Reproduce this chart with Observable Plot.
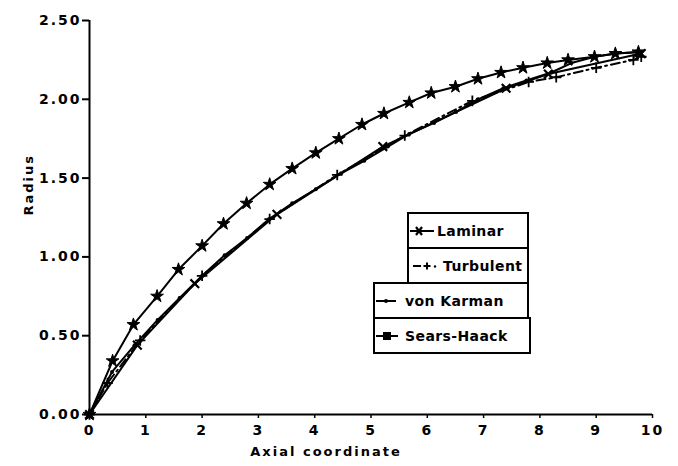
<!DOCTYPE html>
<html><head><meta charset="utf-8">
<script src="https://cdn.jsdelivr.net/npm/d3@7"></script>
<script src="https://cdn.jsdelivr.net/npm/@observablehq/plot@0.6"></script>
<style>
body{margin:0;background:#fff;}
#wrap{position:relative;width:678px;height:466px;font-family:"DejaVu Sans",sans-serif;}
.lg{position:absolute;border:2px solid #000;box-sizing:border-box;background:#fff;font-weight:bold;font-size:14px;letter-spacing:0.4px;display:flex;align-items:center;}
.lg svg{flex:none;}
</style></head><body><div id="wrap"></div>
<script>
// Sears-Haack (star markers)
const searsX = [0, 0.41, 0.78, 1.2, 1.58, 2.0, 2.38, 2.79, 3.2, 3.6, 4.02, 4.43, 4.84, 5.23, 5.68, 6.07, 6.5, 6.9, 7.31, 7.7, 8.13, 8.5, 8.97, 9.34, 9.75];
const searsY = [0, 0.34, 0.57, 0.75, 0.92, 1.07, 1.21, 1.34, 1.46, 1.56, 1.66, 1.75, 1.84, 1.91, 1.98, 2.04, 2.08, 2.13, 2.17, 2.20, 2.23, 2.25, 2.27, 2.29, 2.30];
// von Karman (dots)
const karmanX = [0, 0.4, 0.8, 1.21, 1.6, 2.0, 2.4, 2.8, 3.19, 3.6, 4.02, 4.47, 4.88, 5.3, 5.68, 6.12, 6.51, 6.9, 7.35, 7.76, 8.2, 8.56, 8.97, 9.36, 9.8];
const karmanY = [0, 0.27, 0.44, 0.60, 0.74, 0.88, 1.01, 1.12, 1.24, 1.34, 1.43, 1.53, 1.61, 1.70, 1.78, 1.85, 1.92, 2.0, 2.07, 2.12, 2.17, 2.23, 2.27, 2.29, 2.30];
// Laminar (x markers)
const laminarX = [0, 0.85, 1.87, 3.33, 5.21, 7.4, 8.15, 9.8];
const laminarY = [0, 0.44, 0.83, 1.27, 1.70, 2.07, 2.16, 2.29];
// Turbulent (+ markers, dash-dot)
const turbX = [0, 0.32, 0.9, 2.0, 3.2, 4.4, 5.6, 6.8, 7.8, 8.29, 9.0, 9.66, 9.8];
const turbY = [0, 0.20, 0.47, 0.88, 1.24, 1.52, 1.77, 1.99, 2.11, 2.14, 2.20, 2.25, 2.27];

const yTicks = [0, 0.5, 1.0, 1.5, 2.0, 2.5];
const xTicks = [0, 1, 2, 3, 4, 5, 6, 7, 8, 9, 10];
const seriesNames = ["Laminar", "Turbulent", "von Karman", "Sears-Haack"];
const xTitle = "Axial coordinate";
const yTitle = "Radius";

const zip = (xs, ys) => xs.map((x, i) => ({x, y: ys[i]}));
const sears = zip(searsX, searsY);
const karman = zip(karmanX, karmanY);
const laminar = zip(laminarX, laminarY);
const turb = zip(turbX, turbY);

const chart = Plot.plot({
  width: 678, height: 466,
  marginTop: 20, marginBottom: 52, marginLeft: 89, marginRight: 26,
  x: {domain: [0, 10]},
  y: {domain: [0, 2.5]},
  style: {fontFamily: "'DejaVu Sans', sans-serif", fontSize: "14px", fontWeight: "bold", color: "#000", background: "#fff", letterSpacing: "2px"},
  marks: [
    Plot.axisY({ticks: yTicks, tickFormat: d => d.toFixed(2), tickSize: 7, tickPadding: 1, strokeWidth: 2, label: null}),
    Plot.axisX({ticks: xTicks, tickSize: 4, tickPadding: 7, strokeWidth: 1.5, label: null}),
    Plot.ruleX([0], {strokeWidth: 2}),
    Plot.ruleY([0], {strokeWidth: 2}),
    Plot.line(turb, {x: "x", y: "y", stroke: "#000", strokeWidth: 2, strokeDasharray: "9,4,2,4"}),
    Plot.dot(turb, {x: "x", y: "y", symbol: "plus", r: 3.5, stroke: "#000", strokeWidth: 1.8}),
    Plot.line(karman, {x: "x", y: "y", stroke: "#000", strokeWidth: 2}),
    Plot.dot(karman, {x: "x", y: "y", r: 2, fill: "#000", stroke: "none"}),
    Plot.line(laminar, {x: "x", y: "y", stroke: "#000", strokeWidth: 2}),
    Plot.dot(laminar, {x: "x", y: "y", symbol: "times", r: 4, stroke: "#000", strokeWidth: 2.2}),
    Plot.line(sears, {x: "x", y: "y", stroke: "#000", strokeWidth: 2}),
    Plot.dot(sears, {x: "x", y: "y", symbol: "star", r: 4, fill: "#000", stroke: "#000", strokeWidth: 1}),
    Plot.text([xTitle], {text: d => d, frameAnchor: "bottom", dy: 41, dx: -45, fontSize: 13, letterSpacing: "1px"}),
    Plot.text([yTitle], {text: d => d, frameAnchor: "left", rotate: -90, dx: -61, dy: -2, fontSize: 13})
  ]
});
const wrap = document.getElementById("wrap");
wrap.appendChild(chart);

// Legend boxes (overlay)
const boxes = [
  {name: seriesNames[0], left: 407, top: 212, w: 122, h: 37, sample: '<svg width="24" height="14"><line x1="0" y1="7" x2="24" y2="7" stroke="#000" stroke-width="2"/><path d="M6,3L12,11M12,3L6,11" stroke="#000" stroke-width="2.2"/></svg>'},
  {name: seriesNames[1], left: 407, top: 247, w: 122, h: 37, sample: '<svg width="30" height="14"><line x1="3" y1="7" x2="11" y2="7" stroke="#000" stroke-width="2"/><path d="M17,3.5V10.5M13.5,7H20.5" stroke="#000" stroke-width="2"/><circle cx="25" cy="7.5" r="1.2" fill="#000"/></svg>'},
  {name: seriesNames[2], left: 373, top: 282, w: 156, h: 37, sample: '<svg width="26" height="14"><line x1="0" y1="7" x2="20" y2="7" stroke="#000" stroke-width="2"/><circle cx="10" cy="7" r="2" fill="#000"/></svg>'},
  {name: seriesNames[3], left: 373, top: 317, w: 158, h: 37, sample: '<svg width="26" height="14"><line x1="0" y1="7" x2="22" y2="7" stroke="#000" stroke-width="2"/><rect x="7" y="3" width="8" height="8" fill="#000"/></svg>'}
];
boxes.forEach(b => {
  const d = document.createElement("div");
  d.className = "lg";
  d.style.left = b.left + "px";
  d.style.top = b.top + "px";
  d.style.width = b.w + "px";
  d.style.height = b.h + "px";
  d.style.paddingLeft = "1px";
  d.innerHTML = b.sample + '<span style="margin-left:3px">' + b.name + '</span>';
  wrap.appendChild(d);
});
</script></body></html>
